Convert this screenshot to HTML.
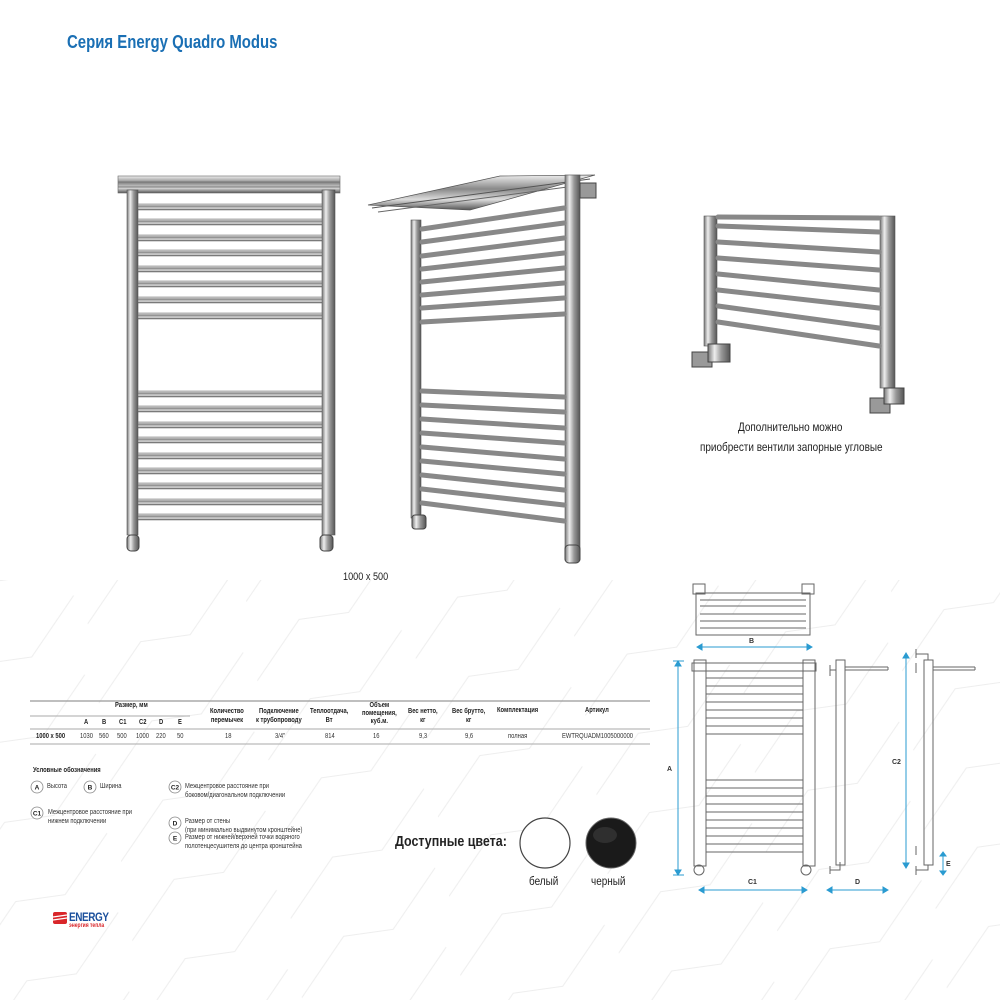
<!DOCTYPE html>
<html><head><meta charset="utf-8"><style>
body{margin:0;width:1000px;height:1000px;background:#fff;overflow:hidden;position:relative;font-family:"Liberation Sans",sans-serif;color:#222}
.t{position:absolute;white-space:nowrap;transform:scaleX(.83);transform-origin:0 0}
</style></head><body>
<svg width="1000" height="1000" style="position:absolute;left:0;top:0" xmlns="http://www.w3.org/2000/svg">
<defs>
<linearGradient id="v" x1="0" y1="0" x2="0" y2="1"><stop offset="0" stop-color="#eee"/><stop offset=".4" stop-color="#888"/><stop offset=".7" stop-color="#ddd"/><stop offset="1" stop-color="#555"/></linearGradient>
<linearGradient id="h" x1="0" y1="0" x2="1" y2="0"><stop offset="0" stop-color="#777"/><stop offset=".3" stop-color="#eee"/><stop offset=".6" stop-color="#999"/><stop offset="1" stop-color="#555"/></linearGradient>
<pattern id="zz" width="160" height="80" patternUnits="userSpaceOnUse" patternTransform="rotate(-8)">
<path d="M0 70 L50 15 L100 15 L150 -40 M0 150 L50 95 L100 95 L150 40" stroke="#eeeeee" stroke-width="1" fill="none"/>
</pattern>
</defs>
<rect x="0" y="580" width="1000" height="420" fill="url(#zz)"/>

<!-- Rail 1 -->
<g>
<rect x="118" y="176" width="222" height="17" fill="url(#v)" stroke="#666" stroke-width=".6"/>
<line x1="118" y1="182" x2="340" y2="182" stroke="#777"/><line x1="118" y1="187" x2="340" y2="187" stroke="#777"/>
<rect x="127" y="190" width="11" height="345" fill="url(#h)" stroke="#555" stroke-width=".6"/>
<rect x="322" y="190" width="13" height="345" fill="url(#h)" stroke="#555" stroke-width=".6"/>
<g fill="url(#v)" stroke="#666" stroke-width=".5">
<rect x="138" y="204" width="184" height="6"/><rect x="138" y="219" width="184" height="6"/><rect x="138" y="235" width="184" height="6"/><rect x="138" y="250" width="184" height="6"/><rect x="138" y="266" width="184" height="6"/><rect x="138" y="281" width="184" height="6"/><rect x="138" y="297" width="184" height="6"/><rect x="138" y="313" width="184" height="6"/>
<rect x="138" y="391" width="184" height="6"/><rect x="138" y="406" width="184" height="6"/><rect x="138" y="422" width="184" height="6"/><rect x="138" y="437" width="184" height="6"/><rect x="138" y="453" width="184" height="6"/><rect x="138" y="468" width="184" height="6"/><rect x="138" y="483" width="184" height="6"/><rect x="138" y="499" width="184" height="6"/><rect x="138" y="514" width="184" height="6"/>
</g>
<rect x="127" y="535" width="12" height="16" rx="4" fill="url(#h)" stroke="#444"/>
<rect x="320" y="535" width="13" height="16" rx="4" fill="url(#h)" stroke="#444"/>
</g>

<!-- Rail 2 -->
<g>
<polygon points="368,205 500,176 595,175 470,210" fill="url(#v)" stroke="#555" stroke-width=".7"/>
<line x1="372" y1="208" x2="590" y2="179" stroke="#555"/><line x1="378" y1="212" x2="590" y2="184" stroke="#666"/>
<rect x="411" y="220" width="10" height="298" fill="url(#h)" stroke="#555" stroke-width=".6"/>
<rect x="565" y="175" width="15" height="385" fill="url(#h)" stroke="#555" stroke-width=".6"/>
<rect x="580" y="183" width="16" height="15" fill="#999" stroke="#444"/>
<g stroke="#888" stroke-width="5" stroke-linecap="round">
<line x1="422" y1="229" x2="564" y2="208"/><line x1="422" y1="242" x2="564" y2="223"/><line x1="422" y1="256" x2="564" y2="238"/><line x1="422" y1="269" x2="564" y2="253"/><line x1="422" y1="282" x2="564" y2="268"/><line x1="422" y1="295" x2="564" y2="283"/><line x1="422" y1="308" x2="564" y2="298"/><line x1="422" y1="322" x2="564" y2="314"/>
<line x1="422" y1="391" x2="564" y2="397"/><line x1="422" y1="405" x2="564" y2="412"/><line x1="422" y1="419" x2="564" y2="428"/><line x1="422" y1="433" x2="564" y2="443"/><line x1="422" y1="447" x2="564" y2="459"/><line x1="422" y1="461" x2="564" y2="474"/><line x1="422" y1="475" x2="564" y2="490"/><line x1="422" y1="489" x2="564" y2="505"/><line x1="422" y1="503" x2="564" y2="521"/>
</g>
<rect x="412" y="515" width="14" height="14" rx="3" fill="url(#h)" stroke="#444"/>
<rect x="565" y="545" width="15" height="18" rx="4" fill="url(#h)" stroke="#444"/>
</g>

<!-- Rail 3 -->
<g>
<rect x="704" y="216" width="13" height="130" fill="url(#h)" stroke="#555" stroke-width=".6"/>
<rect x="880" y="216" width="15" height="172" fill="url(#h)" stroke="#555" stroke-width=".6"/>
<g stroke="#888" stroke-width="5" stroke-linecap="round">
<line x1="718" y1="226" x2="879" y2="232"/><line x1="718" y1="242" x2="879" y2="252"/><line x1="718" y1="258" x2="879" y2="270"/><line x1="718" y1="274" x2="879" y2="290"/><line x1="718" y1="290" x2="879" y2="308"/><line x1="718" y1="306" x2="879" y2="328"/><line x1="718" y1="322" x2="879" y2="346"/><line x1="718" y1="217" x2="879" y2="218"/>
</g>
<rect x="692" y="352" width="20" height="15" fill="#999" stroke="#444"/><rect x="708" y="344" width="22" height="18" fill="url(#h)" stroke="#444"/>
<rect x="870" y="398" width="20" height="15" fill="#999" stroke="#444"/><rect x="884" y="388" width="20" height="16" fill="url(#h)" stroke="#444"/>
</g>

<line x1="30" y1="701" x2="650" y2="701" stroke="#999" stroke-width="1.2"/>
<line x1="30" y1="716" x2="190" y2="716" stroke="#aaa"/>
<line x1="30" y1="729" x2="650" y2="729" stroke="#aaa"/>
<line x1="30" y1="744" x2="650" y2="744" stroke="#aaa"/>

<g fill="#fff" stroke="#888" stroke-width=".8">
<circle cx="37" cy="787" r="6"/><circle cx="90" cy="787" r="6"/><circle cx="37" cy="813" r="6"/><circle cx="175" cy="787" r="6"/><circle cx="175" cy="823" r="6"/><circle cx="175" cy="838" r="6"/>
</g>
<g font-family="Liberation Sans" font-size="6.5" font-weight="bold" text-anchor="middle" fill="#222">
<text x="37" y="789.5">A</text><text x="90" y="789.5">B</text><text x="37" y="815.5">C1</text><text x="175" y="789.5">C2</text><text x="175" y="825.5">D</text><text x="175" y="840.5">E</text>
</g>

<circle cx="545" cy="843" r="25" fill="#fff" stroke="#444" stroke-width="1.2"/>
<circle cx="611" cy="843" r="25" fill="#1a1a1a" stroke="#666"/>
<ellipse cx="605" cy="835" rx="12" ry="8" fill="#444" opacity=".5"/>

<g stroke="#666" fill="none" stroke-width="1">
<rect x="696" y="593" width="114" height="42"/><line x1="700" y1="600" x2="806" y2="600"/><line x1="700" y1="606" x2="806" y2="606"/><line x1="700" y1="614" x2="806" y2="614"/><line x1="700" y1="621" x2="806" y2="621"/><line x1="700" y1="628" x2="806" y2="628"/>
<rect x="693" y="584" width="12" height="10"/><rect x="802" y="584" width="12" height="10"/>
<rect x="694" y="660" width="12" height="206"/><rect x="803" y="660" width="12" height="206"/>
<rect x="692" y="663" width="124" height="8"/>
<line x1="706" y1="678" x2="803" y2="678"/><line x1="706" y1="686" x2="803" y2="686"/><line x1="706" y1="694" x2="803" y2="694"/><line x1="706" y1="702" x2="803" y2="702"/><line x1="706" y1="710" x2="803" y2="710"/><line x1="706" y1="718" x2="803" y2="718"/><line x1="706" y1="726" x2="803" y2="726"/><line x1="706" y1="734" x2="803" y2="734"/>
<line x1="706" y1="780" x2="803" y2="780"/><line x1="706" y1="788" x2="803" y2="788"/><line x1="706" y1="796" x2="803" y2="796"/><line x1="706" y1="804" x2="803" y2="804"/><line x1="706" y1="812" x2="803" y2="812"/><line x1="706" y1="820" x2="803" y2="820"/><line x1="706" y1="828" x2="803" y2="828"/><line x1="706" y1="836" x2="803" y2="836"/><line x1="706" y1="844" x2="803" y2="844"/><line x1="706" y1="852" x2="803" y2="852"/>
<circle cx="699" cy="870" r="5"/><circle cx="806" cy="870" r="5"/>
<rect x="836" y="660" width="9" height="205"/><line x1="845" y1="667" x2="888" y2="667"/><line x1="845" y1="670" x2="888" y2="670"/><line x1="888" y1="667" x2="888" y2="670"/>
<line x1="830" y1="665" x2="830" y2="676"/><line x1="830" y1="670" x2="836" y2="670"/>
<path d="M830 866 L830 874 M830 870 L840 870 L840 862"/>
<rect x="924" y="660" width="9" height="205"/><line x1="933" y1="667" x2="975" y2="667"/><line x1="933" y1="670" x2="975" y2="670"/><line x1="975" y1="667" x2="975" y2="670"/>
<path d="M916 649 L916 658 M916 654 L928 654 L928 660"/><line x1="916" y1="663" x2="916" y2="673"/>
<line x1="916" y1="846" x2="916" y2="855"/><path d="M916 866 L916 875 M916 870 L928 870 L928 865"/>
</g>
<g stroke="#2a9bd1" fill="#2a9bd1" stroke-width="1">
<line x1="697" y1="647" x2="812" y2="647"/><path d="M697 647 l5 -3 v6z M812 647 l-5 -3 v6z"/>
<line x1="678" y1="661" x2="678" y2="875"/><path d="M678 661 l-3 5 h6z M678 875 l-3 -5 h6z"/><line x1="673" y1="661" x2="684" y2="661"/><line x1="673" y1="875" x2="684" y2="875"/>
<line x1="699" y1="890" x2="807" y2="890"/><path d="M699 890 l5 -3 v6z M807 890 l-5 -3 v6z"/>
<line x1="827" y1="890" x2="888" y2="890"/><path d="M827 890 l5 -3 v6z M888 890 l-5 -3 v6z"/>
<line x1="906" y1="653" x2="906" y2="868"/><path d="M906 653 l-3 5 h6z M906 868 l-3 -5 h6z"/>
<line x1="943" y1="852" x2="943" y2="875"/><path d="M943 852 l-3 4 h6z M943 875 l-3 -4 h6z"/>
</g>
<g font-family="Liberation Sans" font-size="7" font-weight="bold" fill="#333">
<text x="749" y="643">B</text><text x="667" y="771">A</text><text x="748" y="884">C1</text><text x="855" y="884">D</text><text x="892" y="764">C2</text><text x="946" y="866">E</text>
</g>

<rect x="53" y="912" width="14" height="12" rx="2" fill="#d9262a"/>
<path d="M53 917 L67 915 M53 920 L67 918" stroke="#fff" stroke-width="1.2"/>
</svg>

<div class="t" style="left:67px;top:32px;font-size:18px;font-weight:bold;color:#1a6fb4">Серия Energy Quadro Modus</div>
<div class="t" style="left:738px;top:420px;font-size:12px;color:#222">Дополнительно можно</div>
<div class="t" style="left:700px;top:440px;font-size:12px;color:#222">приобрести вентили запорные угловые</div>
<div class="t" style="left:343px;top:571px;font-size:11px">1000 x 500</div>

<div style="position:absolute;left:0;top:0;font-size:7px;font-weight:bold">
<div class="t" style="left:115px;top:702px">Размер, мм</div>
<div class="t" style="left:84px;top:719px">A</div><div class="t" style="left:102px;top:719px">B</div><div class="t" style="left:119px;top:719px">C1</div><div class="t" style="left:139px;top:719px">C2</div><div class="t" style="left:159px;top:719px">D</div><div class="t" style="left:178px;top:719px">E</div>
<div class="t" style="left:210px;top:707px;text-align:center;line-height:9px">Количество<br>перемычек</div>
<div class="t" style="left:256px;top:707px;text-align:center;line-height:9px">Подключение<br>к трубопроводу</div>
<div class="t" style="left:310px;top:707px;text-align:center;line-height:9px">Теплоотдача,<br>Вт</div>
<div class="t" style="left:362px;top:702px;text-align:center;line-height:8px">Объем<br>помещения,<br>куб.м.</div>
<div class="t" style="left:408px;top:707px;text-align:center;line-height:9px">Вес нетто,<br>кг</div>
<div class="t" style="left:452px;top:707px;text-align:center;line-height:9px">Вес брутто,<br>кг</div>
<div class="t" style="left:497px;top:707px">Комплектация</div>
<div class="t" style="left:585px;top:707px">Артикул</div>
<div class="t" style="left:36px;top:733px">1000 x 500</div>
<div class="t" style="left:33px;top:767px">Условные обозначения</div>
<div class="t" style="left:395px;top:833px;font-size:15px">Доступные цвета:</div>
</div>
<div style="position:absolute;left:0;top:0;font-size:7px;color:#333">
<div class="t" style="left:80px;top:733px">1030</div><div class="t" style="left:99px;top:733px">560</div><div class="t" style="left:117px;top:733px">500</div><div class="t" style="left:136px;top:733px">1000</div><div class="t" style="left:156px;top:733px">220</div><div class="t" style="left:177px;top:733px">50</div>
<div class="t" style="left:225px;top:733px">18</div><div class="t" style="left:275px;top:733px">3/4"</div><div class="t" style="left:325px;top:733px">814</div><div class="t" style="left:373px;top:733px">16</div><div class="t" style="left:419px;top:733px">9,3</div><div class="t" style="left:465px;top:733px">9,6</div><div class="t" style="left:508px;top:733px">полная</div><div class="t" style="left:562px;top:733px">EWTRQUADM1005000000</div>
<div class="t" style="left:47px;top:783px">Высота</div><div class="t" style="left:100px;top:783px">Ширина</div>
<div class="t" style="left:48px;top:808px;line-height:9px">Межцентровое расстояние при<br>нижнем подключении</div>
<div class="t" style="left:185px;top:782px;line-height:9px">Межцентровое расстояние при<br>боковом/диагональном подключении</div>
<div class="t" style="left:185px;top:817px;line-height:9px">Размер от стены<br>(при минимально выдвинутом кронштейне)</div>
<div class="t" style="left:185px;top:833px;line-height:9px">Размер от нижней/верхней точки водяного<br>полотенцесушителя до центра кронштейна</div>
</div>
<div class="t" style="left:529px;top:874px;font-size:12px">белый</div>
<div class="t" style="left:591px;top:874px;font-size:12px">черный</div>
<div class="t" style="left:69px;top:910px;font-size:12px;font-weight:bold;color:#1a4f9c;letter-spacing:-.5px">ENERGY</div>
<div class="t" style="left:69px;top:923px;font-size:6px;font-weight:bold;color:#d9262a">энергия тепла</div>
</body></html>
